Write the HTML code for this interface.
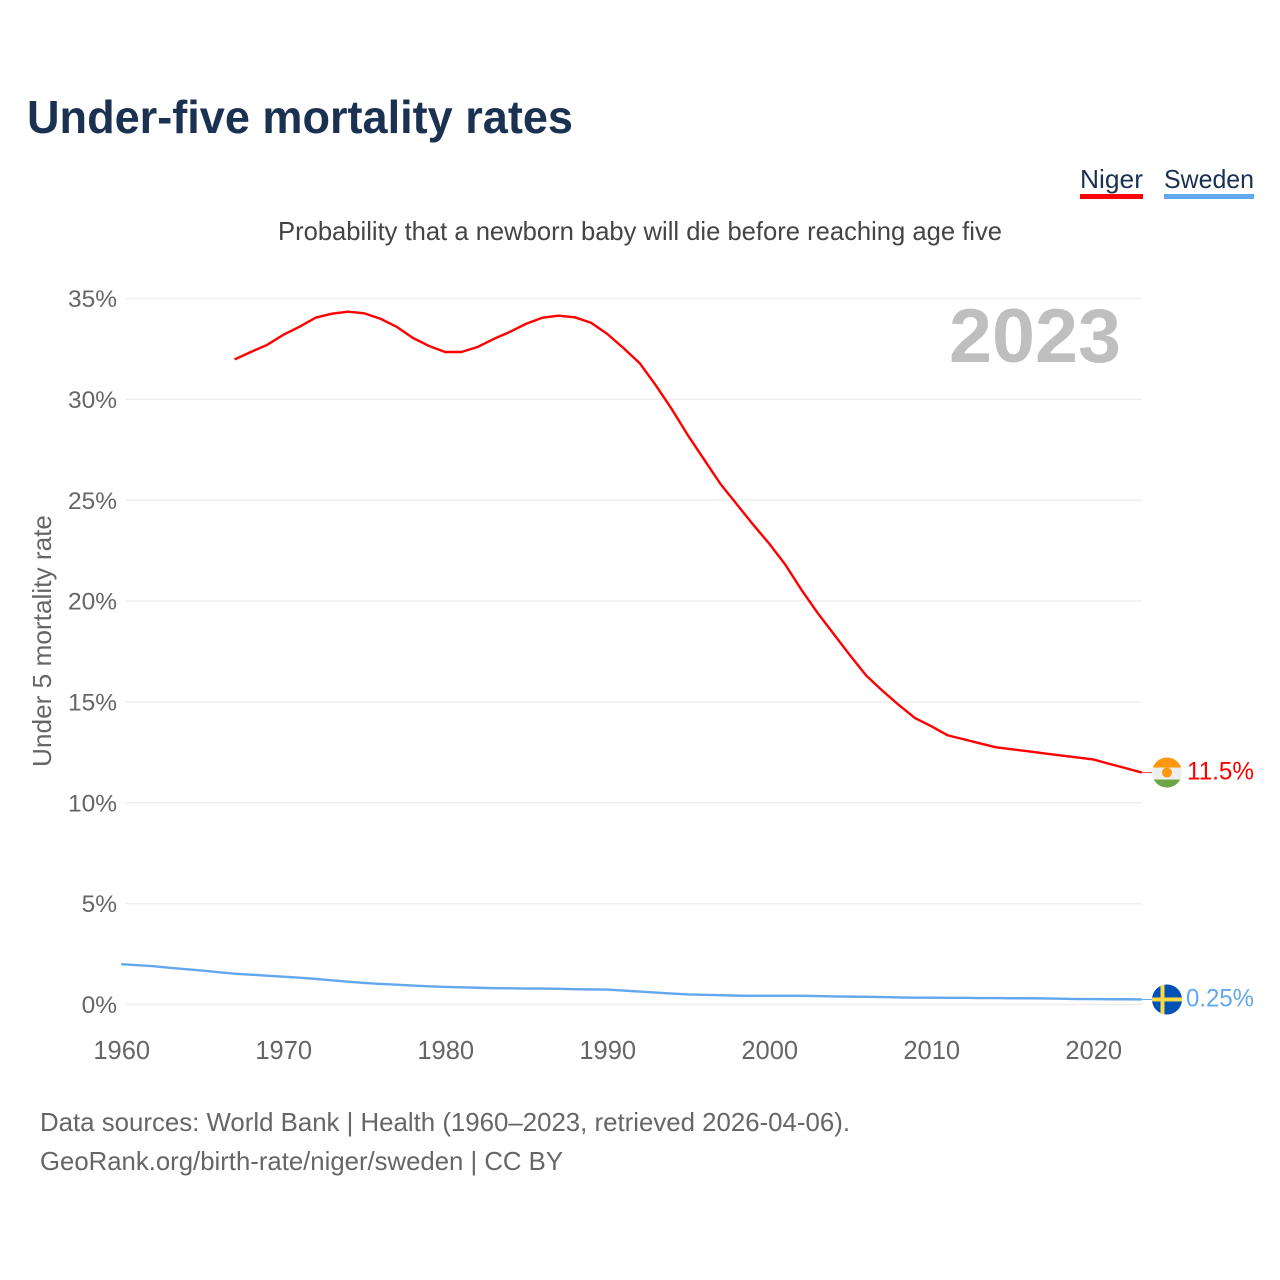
<!DOCTYPE html>
<html lang="en">
<head>
<meta charset="utf-8">
<title>Under-five mortality rates</title>
<style>
html,body{margin:0;padding:0;background:#fff;width:1280px;height:1280px;overflow:hidden}
svg{display:block;font-family:"Liberation Sans",sans-serif}
</style>
</head>
<body>
<svg id="chart" width="1280" height="1280" viewBox="0 0 1280 1280" xmlns="http://www.w3.org/2000/svg">
  <rect width="1280" height="1280" fill="#fff"/>
  <text x="27" y="133" font-size="46" font-weight="700" fill="#1a3152" textLength="546" lengthAdjust="spacingAndGlyphs">Under-five mortality rates</text>
  <text x="1080" y="188" font-size="26" fill="#1a3152" textLength="63" lengthAdjust="spacingAndGlyphs">Niger</text>
  <rect x="1080" y="194" width="63" height="5" fill="#ff0000"/>
  <text x="1164" y="188" font-size="26" fill="#1a3152" textLength="90" lengthAdjust="spacingAndGlyphs">Sweden</text>
  <rect x="1164" y="194" width="90" height="5" fill="#62a8ef"/>
  <text x="278" y="240" font-size="26" fill="#444" textLength="724" lengthAdjust="spacingAndGlyphs">Probability that a newborn baby will die before reaching age five</text>
  <text transform="translate(51,767) rotate(-90)" font-size="26" fill="#666" textLength="252" lengthAdjust="spacingAndGlyphs">Under 5 mortality rate</text>
  <g id="grid"></g>
  <g id="yticks"></g>
  <g id="xticks"></g>
  <text x="949" y="362" font-size="76" font-weight="700" fill="#bfbfbf" textLength="172" lengthAdjust="spacingAndGlyphs">2023</text>
  <g id="series"></g>
  <g id="markers"></g>
  <text x="40" y="1131" font-size="26" fill="#666" textLength="810" lengthAdjust="spacingAndGlyphs">Data sources: World Bank | Health (1960–2023, retrieved 2026-04-06).</text>
  <text x="40" y="1170" font-size="26" fill="#666" textLength="523" lengthAdjust="spacingAndGlyphs">GeoRank.org/birth-rate/niger/sweden | CC BY</text>
</svg>
<script>
const yTickValues = [0, 5, 10, 15, 20, 25, 30, 35];
const xTickValues = [1960, 1970, 1980, 1990, 2000, 2010, 2020];
const nigerStartYear = 1967;
const swedenStartYear = 1960;
const nigerValues = [31.98,32.35,32.7,33.2,33.6,34.05,34.25,34.35,34.27,34.0,33.6,33.05,32.65,32.35,32.35,32.6,33.0,33.35,33.75,34.05,34.15,34.07,33.8,33.25,32.55,31.8,30.7,29.5,28.2,27.0,25.8,24.8,23.8,22.85,21.8,20.55,19.4,18.35,17.3,16.3,15.55,14.85,14.2,13.8,13.35,13.15,12.95,12.75,12.65,12.55,12.45,12.35,12.25,12.15,11.93,11.72,11.5];
const swedenValues = [2.0,1.95,1.9,1.82,1.75,1.68,1.6,1.53,1.48,1.43,1.38,1.33,1.27,1.2,1.13,1.07,1.02,0.98,0.94,0.9,0.87,0.85,0.83,0.81,0.8,0.79,0.79,0.78,0.76,0.75,0.74,0.69,0.64,0.59,0.54,0.5,0.48,0.46,0.44,0.43,0.43,0.43,0.43,0.42,0.4,0.39,0.38,0.37,0.35,0.34,0.34,0.33,0.33,0.32,0.32,0.31,0.31,0.3,0.29,0.27,0.27,0.26,0.26,0.25];
const nigerEndLabel = "11.5%";
const swedenEndLabel = "0.25%";

const NS = "http://www.w3.org/2000/svg";
const xScale = function (year) { return 121.2 + (year - 1960) * 16.2; };
const yScale = function (value) { return 1004.5 - value * 20.17; };
const X_END = xScale(2023);

function mk(tag, attrs, parent, txt) {
  const el = document.createElementNS(NS, tag);
  for (const k in attrs) el.setAttribute(k, attrs[k]);
  if (txt !== undefined) el.textContent = txt;
  parent.appendChild(el);
  return el;
}

const grid = document.getElementById("grid");
const yticks = document.getElementById("yticks");
const xticks = document.getElementById("xticks");
const seriesG = document.getElementById("series");
const markers = document.getElementById("markers");

yTickValues.forEach(function (v) {
  const line = mk("line", {x1: 126, x2: X_END, y1: yScale(v), y2: yScale(v), stroke: "#eeeeee", "stroke-width": 1.5}, grid);
  
  
  const label = mk("text", {x: 117, y: yScale(v) + 8.5, "text-anchor": "end", "font-size": 24.5, fill: "#666"}, yticks, v + "%");
  
  
});

xTickValues.forEach(function (v) {
  const label = mk("text", {x: xScale(v) + 0.5, y: 1059, "text-anchor": "middle", "font-size": 25.5, fill: "#666"}, xticks, String(v));
  
  
});

function linePath(values, startYear) {
  return values.map(function (v, i) {
    return (i ? "L" : "M") + xScale(startYear + i).toFixed(2) + " " + yScale(v).toFixed(2);
  }).join(" ");
}

const nigerLine = mk("path", {d: linePath(nigerValues, nigerStartYear), fill: "none", stroke: "#ff0000", "stroke-width": 2.4, "stroke-linejoin": "round"}, seriesG);


const swedenLine = mk("path", {d: linePath(swedenValues, swedenStartYear), fill: "none", stroke: "#62a8ef", "stroke-width": 2.4, "stroke-linejoin": "round"}, seriesG);



const defs = mk("defs", {}, markers);
const nigerEndY = yScale(nigerValues[nigerValues.length - 1]);
const swedenEndY = yScale(swedenValues[swedenValues.length - 1]);
const FX = 1167, FR = 15;

const nc = mk("clipPath", {id: "clip-niger"}, defs);
mk("circle", {cx: FX, cy: nigerEndY, r: FR}, nc);
const sc = mk("clipPath", {id: "clip-sweden"}, defs);
mk("circle", {cx: FX, cy: swedenEndY, r: FR}, sc);

const nigerTick = mk("line", {x1: X_END, x2: FX - FR, y1: nigerEndY, y2: nigerEndY, stroke: "#ff0000", "stroke-width": 1, opacity: 0.7}, markers);


const swedenTick = mk("line", {x1: X_END, x2: FX - FR, y1: swedenEndY, y2: swedenEndY, stroke: "#62a8ef", "stroke-width": 1}, markers);



const nigerFlag = mk("g", {"clip-path": "url(#clip-niger)"}, markers);


mk("rect", {x: FX - FR, y: nigerEndY - FR, width: 2 * FR, height: 31, fill: "#eeeeee"}, nigerFlag);
mk("rect", {x: FX - FR, y: nigerEndY - FR, width: 2 * FR, height: 10, fill: "#ff9811"}, nigerFlag);
mk("rect", {x: FX - FR, y: nigerEndY + 7, width: 2 * FR, height: 9, fill: "#6da544"}, nigerFlag);
mk("circle", {cx: FX, cy: nigerEndY, r: 5, fill: "#ff9811"}, nigerFlag);

const swedenFlag = mk("g", {"clip-path": "url(#clip-sweden)"}, markers);


mk("rect", {x: FX - FR, y: swedenEndY - FR, width: 2 * FR, height: 31, fill: "#0052b4"}, swedenFlag);
mk("rect", {x: FX - FR, y: swedenEndY - 2, width: 2 * FR, height: 4, fill: "#ffda44"}, swedenFlag);
mk("rect", {x: FX - 6.5, y: swedenEndY - FR, width: 4, height: 31, fill: "#ffda44"}, swedenFlag);

const nigerLabel = mk("text", {x: 1254, y: nigerEndY + 7, "text-anchor": "end", "font-size": 25, fill: "#ff0000", textLength: 67, lengthAdjust: "spacingAndGlyphs"}, markers, nigerEndLabel);


const swedenLabel = mk("text", {x: 1254, y: swedenEndY + 7, "text-anchor": "end", "font-size": 25, fill: "#62a8ef", textLength: 68, lengthAdjust: "spacingAndGlyphs"}, markers, swedenEndLabel);


</script>
</body>
</html>
